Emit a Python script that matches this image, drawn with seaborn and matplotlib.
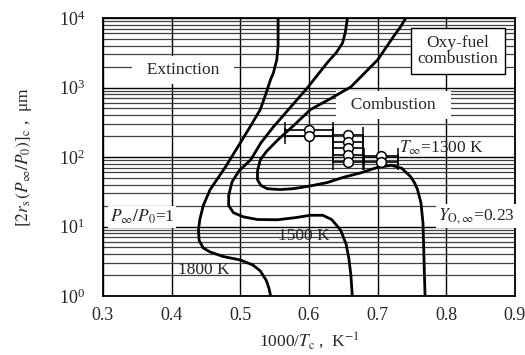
import numpy as np
import pandas as pd
import matplotlib
matplotlib.use("Agg")
import matplotlib.pyplot as plt
import seaborn as sns
from matplotlib.ticker import LogLocator, NullFormatter, FixedLocator

# ---------------- data ----------------
t1800_x = [0.555, 0.555, 0.553, 0.548, 0.544, 0.537, 0.529, 0.515, 0.500, 0.478, 0.456, 0.446,
           0.441, 0.439, 0.440, 0.446, 0.456, 0.475, 0.500, 0.518, 0.529, 0.538, 0.542, 0.544]
t1800_y = [10000, 4000, 2500, 1600, 1300, 800, 480, 280, 160, 71, 34, 20,
           12.6, 8.9, 6.3, 4.9, 4.3, 3.7, 3.3, 2.8, 2.3, 1.66, 1.26, 1.0]

t1500_x = [0.656, 0.653, 0.649, 0.640, 0.627, 0.598, 0.573, 0.548, 0.530, 0.515, 0.498, 0.488,
           0.483, 0.483, 0.490, 0.504, 0.525, 0.554, 0.580, 0.602, 0.620, 0.633, 0.646, 0.654,
           0.658, 0.661, 0.663]
t1500_y = [10000, 6300, 4400, 3200, 2300, 1000, 520, 270, 160, 91, 63, 44,
           28, 20, 15.8, 13.8, 12.6, 12.5, 13.4, 14.5, 14.5, 12.6, 8.9, 5.6,
           3.5, 2.0, 1.0]

t1300_x = [0.741, 0.733, 0.723, 0.700, 0.680, 0.661, 0.630, 0.602, 0.577, 0.554, 0.538, 0.529,
           0.525, 0.525, 0.530, 0.539, 0.558, 0.577, 0.600, 0.627, 0.650, 0.675, 0.700, 0.720,
           0.735, 0.748, 0.754, 0.758, 0.763, 0.766, 0.767, 0.768, 0.769]
t1300_y = [10000, 7400, 5400, 2500, 1580, 1020, 680, 480, 280, 174, 120, 91,
           63, 47, 39, 35, 34, 35, 38, 43, 51, 59, 71, 76,
           69, 52, 42, 34, 22, 11.2, 5.0, 2.2, 1.0]

curve_labels = ["1800 K", "1500 K", "1300 K"]

exp_x = [0.600, 0.600, 0.657, 0.657, 0.657, 0.657, 0.657, 0.705, 0.705]
exp_y = [245, 200, 208, 165, 134, 107, 85, 103, 85]
exp_xerr = [0.035, 0.035, 0.022, 0.022, 0.022, 0.022, 0.022, 0.025, 0.025]

x_ticks = [0.3, 0.4, 0.5, 0.6, 0.7, 0.8, 0.9]
y_ticks = [1, 10, 100, 1000, 10000]

# ---------------- style ----------------
sns.set_style("white")
plt.rcParams["font.family"] = ["Liberation Serif", "DejaVu Serif"]
plt.rcParams["mathtext.fontset"] = "stix"

fig = plt.figure(figsize=(5.25, 3.55), dpi=100)
ax = fig.add_axes([103 / 525, 1 - 296 / 355, (515 - 103) / 525, (296 - 18) / 355])

ax.set_yscale("log")
ax.set_xlim(0.3, 0.9)
ax.set_ylim(1, 1e4)
ax.xaxis.set_major_locator(FixedLocator(x_ticks))
ax.yaxis.set_major_locator(FixedLocator(y_ticks))
ax.yaxis.set_minor_locator(LogLocator(base=10, subs=np.arange(2, 10)))
ax.yaxis.set_minor_formatter(NullFormatter())
ax.set_xticklabels([f"{v:.1f}" for v in x_ticks])

ax.grid(which="major", axis="both", color="black", lw=1.0, zorder=0)
ax.grid(which="minor", axis="y", color="#404040", lw=0.9, zorder=0)
ax.set_axisbelow(True)
ax.tick_params(which="both", length=0, labelsize=13)
ax.tick_params(axis="y", pad=13)
ax.tick_params(axis="x", pad=8)
for s in ax.spines.values():
    s.set_color("black")
    s.set_linewidth(1.3)

# curves
for cx, cy, lab in zip([t1800_x, t1500_x, t1300_x], [t1800_y, t1500_y, t1300_y], curve_labels):
    df = pd.DataFrame({"x": cx, "y": cy})
    sns.lineplot(data=df, x="x", y="y", sort=False, estimator=None, color="black",
                 lw=2.0, ax=ax, zorder=4)

# experimental points
ax.errorbar(exp_x, exp_y, xerr=exp_xerr, fmt="o", ms=7, mfc="white", mec="black",
            mew=1.1, ecolor="black", elinewidth=1.2, capsize=6, capthick=1.2, zorder=6)

# annotations
box_white = dict(facecolor="white", edgecolor="none", boxstyle="square,pad=0.35")
ax.text(0.417, 1780, "  Extinction  ", ha="center", va="center", fontsize=12.5,
        bbox=box_white, zorder=3)
ax.text(0.723, 560, "  Combustion  ", ha="center", va="center", fontsize=12.5,
        bbox=box_white, zorder=3)
ax.text(0.817, 3360, "Oxy-fuel\ncombustion", ha="center", va="center", fontsize=12.5,
        linespacing=1.05,
        bbox=dict(facecolor="white", edgecolor="black", lw=1.0, boxstyle="square,pad=0.4"),
        zorder=5)
ax.text(0.731, 135, r"$T_\infty$=1300 K", ha="left", va="center", fontsize=12.5, zorder=5)
ax.text(0.310, 13.7, r"$P_\infty/P_0$=1", ha="left", va="center", fontsize=12.5,
        bbox=dict(facecolor="white", edgecolor="none", boxstyle="square,pad=0.1"), zorder=3)
ax.text(0.788, 14.1, r"$Y_{\mathrm{O},\infty}$=0.23", ha="left", va="center", fontsize=12.5,
        bbox=dict(facecolor="white", edgecolor="none", boxstyle="square,pad=0.1"), zorder=3)
ax.text(0.593, 7.3, "1500 K", ha="center", va="center", fontsize=12.5, zorder=5)
ax.text(0.447, 2.4, "1800 K", ha="center", va="center", fontsize=12.5, zorder=5)

ax.set_xlabel(r"1000/$T_\mathrm{c}$ ,  K$^{-1}$", fontsize=12.5, labelpad=4)
ax.set_ylabel(r"$[2r_\mathrm{s}\,(P_\infty/P_0)]_\mathrm{c}$ ,  μm", fontsize=12.5, labelpad=18)

fig.savefig("out.png", dpi=100)
